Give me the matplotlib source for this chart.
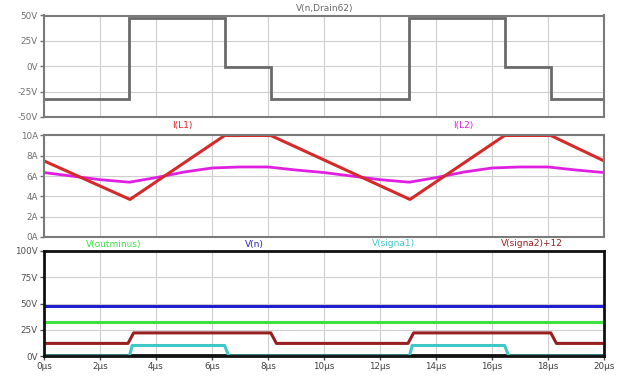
import matplotlib
matplotlib.use("Agg")
import matplotlib.pyplot as plt
from matplotlib.ticker import FixedLocator

# ---- data (time in µs) ----
t_vd = [0, 3.05, 3.05, 6.45, 6.45, 8.1, 8.1, 13.05, 13.05, 16.45, 16.45, 18.1, 18.1, 20]
v_vd = [-32, -32, 48, 48, -1, -1, -32, -32, 48, 48, -1, -1, -32, -32]

t_il1 = [0, 3.07, 6.45, 8.1, 13.07, 16.45, 18.1, 20]
i_l1 = [7.5, 3.7, 10.0, 10.0, 3.7, 10.0, 10.0, 7.5]

t_il2 = [0, 1, 2, 3.05, 4, 5, 6, 7, 8, 9, 10, 11, 12, 13.05, 14, 15, 16, 17, 18, 19, 20]
i_l2 = [6.35, 6.0, 5.65, 5.4, 5.85, 6.4, 6.8, 6.9, 6.9, 6.6, 6.35, 6.0, 5.65, 5.4, 5.85, 6.4, 6.8, 6.9, 6.9, 6.6, 6.35]

t_vn = [0, 20]
v_vn = [48, 48]
t_vout = [0, 20]
v_vout = [32, 32]

t_s2 = [0, 3.0, 3.2, 8.1, 8.3, 13.0, 13.2, 18.1, 18.3, 20]
v_s2 = [12, 12, 22, 22, 12, 12, 22, 22, 12, 12]

t_s1 = [0, 3.05, 3.15, 6.45, 6.6, 13.05, 13.15, 16.45, 16.6, 20]
v_s1 = [0, 0, 10, 10, 0, 0, 10, 10, 0, 0]

t_black = [0, 20]
v_black = [0.6, 0.6]

xticks = [0, 2, 4, 6, 8, 10, 12, 14, 16, 18, 20]
xticklabels = [f"{v}µs" for v in xticks]
y1ticks = [50, 25, 0, -25, -50]
y1labels = ["50V", "25V", "0V", "-25V", "-50V"]
y2ticks = [10, 8, 6, 4, 2, 0]
y2labels = ["10A", "8A", "6A", "4A", "2A", "0A"]
y3ticks = [100, 75, 50, 25, 0]
y3labels = ["100V", "75V", "50V", "25V", "0V"]

W, H = 622, 378
fig = plt.figure(figsize=(W / 100, H / 100), dpi=100)
plt.rcParams['font.family'] = ['DejaVu Sans']

def axrect(top, bottom, left=44, right=604):
    return [left / W, 1 - bottom / H, (right - left) / W, (bottom - top) / H]

ax1 = fig.add_axes(axrect(15.5, 117))
ax2 = fig.add_axes(axrect(135.5, 237))
ax3 = fig.add_axes(axrect(251, 356))

def style(ax, yt, yl, ylim, spine_col, spine_w, lab_col, show_x):
    ax.set_xlim(0, 20)
    ax.set_ylim(*ylim)
    ax.xaxis.set_major_locator(FixedLocator(xticks))
    ax.set_yticks(yt)
    ax.set_yticklabels(yl)
    if show_x:
        ax.set_xticklabels(xticklabels)
    else:
        ax.set_xticklabels([])
    ax.grid(True, color="#cfcfcf", linestyle="-", linewidth=0.8)
    ax.set_axisbelow(True)
    for s in ax.spines.values():
        s.set_color(spine_col)
        s.set_linewidth(spine_w)
    ax.tick_params(axis="both", labelsize=6.3, colors=lab_col, length=3, width=1, pad=1.5,
                   direction="out")
    ax.tick_params(axis="x", length=0 if not show_x else 3)

style(ax1, y1ticks, y1labels, (-50, 50), "#7a7a7a", 1.5, "#707070", False)
style(ax2, y2ticks, y2labels, (0, 10), "#7a7a7a", 1.5, "#707070", False)
style(ax3, y3ticks, y3labels, (0, 100), "#111111", 2.0, "#505050", True)
for lbl in ax3.get_xticklabels():
    lbl.set_color("#404040")

ax1.plot(t_vd, v_vd, color="#6a6a6a", linewidth=2.0, solid_joinstyle="miter")

ax2.plot(t_il2, i_l2, color="#e020e0", linewidth=2.0)
ax2.plot(t_il1, i_l1, color="#d52a2a", linewidth=2.2)

ax3.plot(t_black, v_black, color="#111111", linewidth=2.0)
ax3.plot(t_vn, v_vn, color="#2020d0", linewidth=2.2)
ax3.plot(t_vout, v_vout, color="#40e040", linewidth=2.2)
ax3.plot(t_s2, v_s2, color="#992020", linewidth=2.2)
ax3.plot(t_s1, v_s1, color="#40c8c8", linewidth=2.2)

fig.text(325 / W, 1 - 8 / H, "V(n,Drain62)", color="#6a6a6a", fontsize=6.5, ha="center", va="center")
fig.text(182 / W, 1 - 126 / H, "I(L1)", color="#e02020", fontsize=6.5, ha="center", va="center")
fig.text(463 / W, 1 - 126 / H, "I(L2)", color="#e020e0", fontsize=6.5, ha="center", va="center")
fig.text(114 / W, 1 - 244 / H, "V(outminus)", color="#40e040", fontsize=6.5, ha="center", va="center")
fig.text(254 / W, 1 - 244 / H, "V(n)", color="#2020d0", fontsize=6.5, ha="center", va="center")
fig.text(393 / W, 1 - 244 / H, "V(signa1)", color="#40c8c8", fontsize=6.5, ha="center", va="center")
fig.text(532 / W, 1 - 244 / H, "V(signa2)+12", color="#992020", fontsize=6.5, ha="center", va="center")

fig.savefig("out.png", dpi=100, facecolor="white")
